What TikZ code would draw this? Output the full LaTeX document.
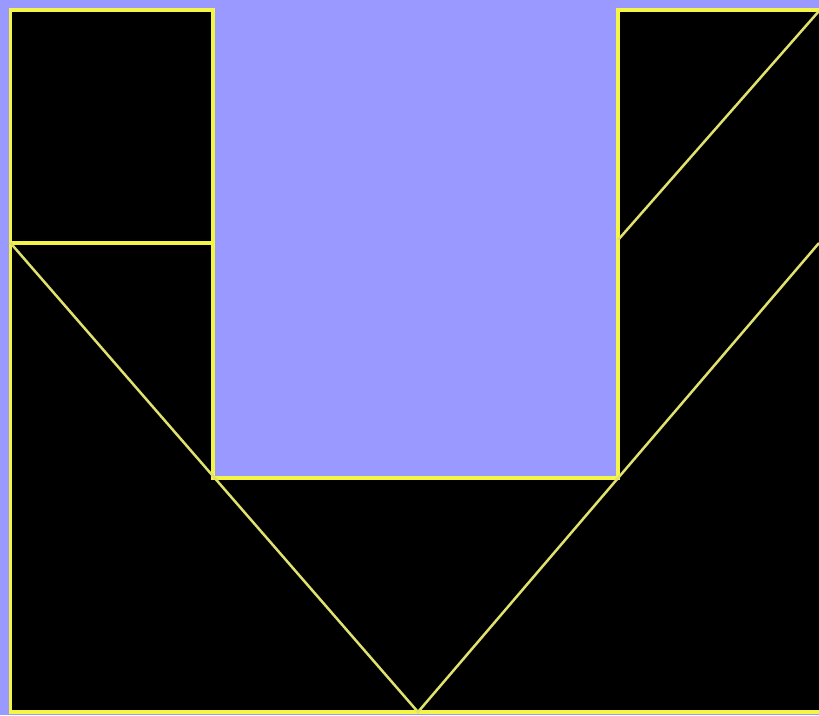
\documentclass[tikz,border=0pt]{standalone}
\definecolor{lav}{RGB}{153,153,255}
\definecolor{yl}{RGB}{245,245,70}
\definecolor{yd}{RGB}{225,225,110}
\begin{document}
\begin{tikzpicture}[x=1pt,y=-1pt,
  edge/.style={draw=yl,line width=3.5pt,line join=miter},
  diag/.style={draw=yd,line width=2.5pt}]
\useasboundingbox (0,0) rectangle (819,715);
\fill[lav] (0,0) rectangle (819,715);
\clip (0,0) rectangle (819,715);
% black outline shape
\path[fill=black,edge] (10.5,10) -- (213,10) -- (213,478) -- (618,478) -- (618,10) -- (824,10) -- (824,712) -- (10.5,712) -- cycle;
% internal straight edges
\draw[edge] (10.5,243) -- (213,243);
% diagonals
\coordinate (LT) at (10.5,243);
\coordinate (B) at (418,712);
\coordinate (RT) at (819,243);
\coordinate (RM) at (618,240);
\coordinate (RC) at (819,11);
\draw[diag] (LT) -- (B) -- (RT);
\draw[diag] (RM) -- (RC);
\end{tikzpicture}
\end{document}
